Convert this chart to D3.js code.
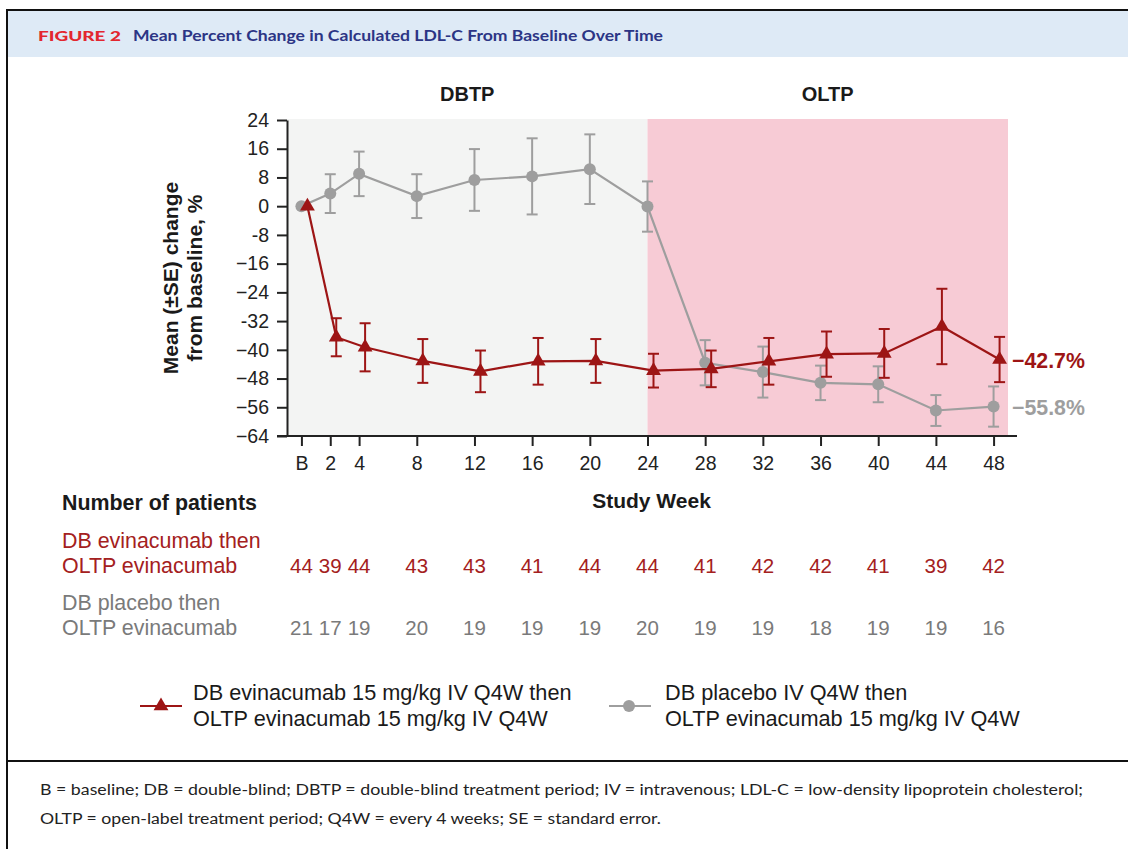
<!DOCTYPE html>
<html><head><meta charset="utf-8">
<script src="https://cdn.jsdelivr.net/npm/d3@7"></script>
<style>
body{margin:0;background:#fff;}
svg{display:block;}
</style>
</head><body>
<svg id="chart" width="1128" height="849"></svg>
<script>
// ---------- data ----------
const weeks = [0, 2, 4, 8, 12, 16, 20, 24, 28, 32, 36, 40, 44, 48];
const weekLabels = ["B", "2", "4", "8", "12", "16", "20", "24", "28", "32", "36", "40", "44", "48"];
const evinMean = [0, -36.5, -39.3, -43.1, -46.0, -43.2, -43.1, -45.8, -45.3, -43.2, -41.2, -41.0, -33.5, -42.7];
const evinSE   = [0, 5.3, 6.7, 6.1, 5.8, 6.5, 6.1, 4.7, 5.1, 6.5, 6.3, 6.8, 10.5, 6.3];
const placMean = [0, 3.5, 9.0, 2.8, 7.3, 8.3, 10.3, -0.1, -43.6, -46.2, -49.2, -49.6, -56.9, -55.8];
const placSE   = [0, 5.4, 6.2, 6.1, 8.6, 10.6, 9.7, 7.0, 6.3, 7.1, 4.8, 5.0, 4.3, 5.6];
const evinN = [44, 39, 44, 43, 43, 41, 44, 44, 41, 42, 42, 41, 39, 42];
const placN = [21, 17, 19, 20, 19, 19, 19, 20, 19, 19, 18, 19, 19, 16];
const yTicks = [24, 16, 8, 0, -8, -16, -24, -32, -40, -48, -56, -64];
const yTickLabels = ["24", "16", "8", "0", "-8", "\u221216", "\u221224", "-32", "\u221240", "\u221248", "\u221256", "\u221264"];
const periods = [
  {name: "DBTP", from: -1, to: 24, fill: "#f3f4f3"},
  {name: "OLTP", from: 24, to: 49, fill: "#f7cbd5"}
];
const endLabels = ["\u221242.7%", "\u221255.8%"];
const seriesNames = [
  ["DB evinacumab 15 mg/kg IV Q4W then", "OLTP evinacumab 15 mg/kg IV Q4W"],
  ["DB placebo IV Q4W then", "OLTP evinacumab 15 mg/kg IV Q4W"]
];
const rowLabels = [
  ["DB evinacumab then", "OLTP evinacumab"],
  ["DB placebo then", "OLTP evinacumab"]
];
const footnote = [
  "B = baseline; DB = double-blind; DBTP = double-blind treatment period; IV = intravenous; LDL-C = low-density lipoprotein cholesterol;",
  "OLTP = open-label treatment period; Q4W = every 4 weeks; SE = standard error."
];

// ---------- styles ----------
const RED = "#9d1515", RED_TXT = "#a42020";
const GRAY = "#9e9e9e", GRAY_TXT = "#7a7a7a";
const AX = "#222";
const FONT = "'Liberation Sans', Arial, Helvetica, sans-serif";
const HFONT = "Lato, 'Open Sans', sans-serif";

const svg = d3.select("#chart");

// ---------- frame & header ----------
svg.append("rect").attr("x", 7).attr("y", 11).attr("width", 1121).attr("height", 46).attr("fill", "#deeaf6");
svg.append("line").attr("x1", 6).attr("x2", 1128).attr("y1", 10).attr("y2", 10).attr("stroke", "#111").attr("stroke-width", 2);
svg.append("line").attr("x1", 7).attr("x2", 7).attr("y1", 9).attr("y2", 849).attr("stroke", "#111").attr("stroke-width", 2);
svg.append("line").attr("x1", 7).attr("x2", 1128).attr("y1", 761).attr("y2", 761).attr("stroke", "#111").attr("stroke-width", 2);

svg.append("text").attr("x", 38).attr("y", 41)
  .attr("font-family", HFONT).attr("font-weight", 900).attr("font-size", 13.5)
  .attr("fill", "#e3262f").attr("textLength", 83).attr("lengthAdjust", "spacingAndGlyphs")
  .text("FIGURE 2");
svg.append("text").attr("x", 133).attr("y", 41)
  .attr("font-family", HFONT).attr("font-weight", 700).attr("font-size", 16)
  .attr("fill", "#2c3585").attr("textLength", 530).attr("lengthAdjust", "spacingAndGlyphs")
  .text("Mean Percent Change in Calculated LDL-C From Baseline Over Time");

// ---------- scales ----------
const x = d3.scaleLinear().domain([-1, 49]).range([287, 1008]);
const y = d3.scaleLinear().domain([-64, 24]).range([436, 120]);
const DODGE = 6; // red series horizontal offset (px)

// period backgrounds
svg.append("g").selectAll("rect").data(periods).join("rect")
  .attr("x", d => x(d.from)).attr("width", d => x(d.to) - x(d.from))
  .attr("y", y(24) - 1).attr("height", y(-64) - y(24) + 1)
  .attr("fill", d => d.fill);
svg.append("g").selectAll("text").data(periods).join("text")
  .attr("x", d => (x(d.from) + x(d.to)) / 2).attr("y", 101)
  .attr("text-anchor", "middle").attr("font-family", FONT).attr("font-weight", 700)
  .attr("font-size", 20).attr("fill", "#1a1a1a").text(d => d.name);

// ---------- axes ----------
const yAxis = svg.append("g").attr("transform", `translate(${x(-1)},0)`)
  .call(d3.axisLeft(y).tickValues(yTicks).tickFormat((d, i) => yTickLabels[i]).tickSize(10).tickSizeOuter(0).tickPadding(8));
const xAxis = svg.append("g").attr("transform", `translate(0,${y(-64)})`)
  .call(d3.axisBottom(x).tickValues(weeks).tickFormat((d, i) => weekLabels[i]).tickSize(10).tickSizeOuter(0).tickPadding(10));
xAxis.select(".domain").remove();
xAxis.append("line").attr("x1", x(-1) - 10).attr("x2", x(49) + 9).attr("y1", 0).attr("y2", 0)
  .attr("stroke", AX).attr("stroke-width", 2);
[yAxis, xAxis].forEach(g => {
  g.selectAll(".domain").attr("stroke", AX).attr("stroke-width", 2);
  g.selectAll(".tick line").attr("stroke", AX).attr("stroke-width", 2);
  g.selectAll(".tick text").attr("font-family", FONT).attr("font-size", 19.5).attr("fill", "#222");
});

// y axis title
const yt = svg.append("text").attr("transform", `translate(178,${(y(24) + y(-64)) / 2}) rotate(-90)`)
  .attr("text-anchor", "middle").attr("font-family", FONT).attr("font-weight", 700)
  .attr("font-size", 21).attr("fill", "#1a1a1a");
yt.append("tspan").attr("x", 0).attr("y", 0).text("Mean (\u00B1SE) change");
yt.append("tspan").attr("x", 0).attr("y", 24).text("from baseline, %");

svg.append("text").attr("x", (x(-1) + x(49)) / 2 + 4).attr("y", 508).attr("text-anchor", "middle")
  .attr("font-family", FONT).attr("font-weight", 700).attr("font-size", 21).attr("fill", "#1a1a1a")
  .text("Study Week");

// ---------- series ----------
function drawSeries(means, ses, color, dx, marker) {
  const pts = weeks.map((w, i) => ({w, m: means[i], se: ses[i]}));
  const g = svg.append("g");
  g.append("path").datum(pts)
    .attr("d", d3.line().x(d => x(d.w) + dx).y(d => y(d.m)))
    .attr("fill", "none").attr("stroke", color).attr("stroke-width", 2.2);
  const eb = g.selectAll("g.eb").data(pts.filter(d => d.se > 0)).join("g")
    .attr("stroke", color).attr("stroke-width", 2);
  eb.append("line").attr("x1", d => x(d.w) + dx).attr("x2", d => x(d.w) + dx)
    .attr("y1", d => y(d.m + d.se)).attr("y2", d => y(d.m - d.se));
  eb.append("line").attr("x1", d => x(d.w) + dx - 5.5).attr("x2", d => x(d.w) + dx + 5.5)
    .attr("y1", d => y(d.m + d.se)).attr("y2", d => y(d.m + d.se));
  eb.append("line").attr("x1", d => x(d.w) + dx - 5.5).attr("x2", d => x(d.w) + dx + 5.5)
    .attr("y1", d => y(d.m - d.se)).attr("y2", d => y(d.m - d.se));
  if (marker === "triangle") {
    g.selectAll("path.mk").data(pts).join("path").attr("class", "mk")
      .attr("d", d3.symbol(d3.symbolTriangle, 95))
      .attr("transform", d => `translate(${x(d.w) + dx},${y(d.m)})`).attr("fill", color);
  } else {
    g.selectAll("circle.mk").data(pts).join("circle").attr("class", "mk")
      .attr("cx", d => x(d.w) + dx).attr("cy", d => y(d.m)).attr("r", 6).attr("fill", color);
  }
}
drawSeries(placMean, placSE, GRAY, 0, "circle");
drawSeries(evinMean, evinSE, RED, DODGE, "triangle");

// end labels
svg.append("text").attr("x", 1012).attr("y", y(evinMean[evinMean.length - 1]) + 8)
  .attr("font-family", FONT).attr("font-weight", 700).attr("font-size", 21.3).attr("fill", RED).text(endLabels[0]);
svg.append("text").attr("x", 1012).attr("y", y(placMean[placMean.length - 1]) + 8)
  .attr("font-family", FONT).attr("font-weight", 700).attr("font-size", 21.3).attr("fill", GRAY).text(endLabels[1]);

// ---------- number at risk ----------
svg.append("text").attr("x", 62).attr("y", 510).attr("font-family", FONT).attr("font-weight", 700)
  .attr("font-size", 21.4).attr("fill", "#1a1a1a").text("Number of patients");
const rows = [
  {labels: rowLabels[0], n: evinN, color: RED_TXT, y0: 548},
  {labels: rowLabels[1], n: placN, color: GRAY_TXT, y0: 610}
];
rows.forEach(r => {
  r.labels.forEach((t, i) => svg.append("text").attr("x", 62).attr("y", r.y0 + i * 25)
    .attr("font-family", FONT).attr("font-size", 21.4).attr("fill", r.color).text(t));
  svg.append("g").selectAll("text").data(r.n).join("text")
    .attr("x", (d, i) => x(weeks[i])).attr("y", r.y0 + 25).attr("text-anchor", "middle")
    .attr("font-family", FONT).attr("font-size", 20.5).attr("fill", r.color).text(d => d);
});

// ---------- legend ----------
const legend = [
  {x0: 140, color: RED, marker: "triangle", lines: seriesNames[0], tx: 193},
  {x0: 609, color: GRAY, marker: "circle", lines: seriesNames[1], tx: 665}
];
legend.forEach(l => {
  const g = svg.append("g");
  g.append("line").attr("x1", l.x0).attr("x2", l.x0 + 42).attr("y1", 706).attr("y2", 706)
    .attr("stroke", l.color).attr("stroke-width", 2.2);
  if (l.marker === "triangle") {
    g.append("path").attr("d", d3.symbol(d3.symbolTriangle, 95))
      .attr("transform", `translate(${l.x0 + 21},706)`).attr("fill", l.color);
  } else {
    g.append("circle").attr("cx", l.x0 + 20).attr("cy", 706).attr("r", 6).attr("fill", l.color);
  }
  l.lines.forEach((t, i) => g.append("text").attr("x", l.tx).attr("y", 700 + i * 26)
    .attr("font-family", FONT).attr("font-size", 21.7).attr("fill", "#1a1a1a").text(t));
});

// ---------- footnote ----------
const fnLen = [1043, 621];
footnote.forEach((t, i) => svg.append("text").attr("x", 40).attr("y", 795 + i * 29)
  .attr("font-family", HFONT).attr("font-size", 15.5).attr("fill", "#222")
  .attr("textLength", fnLen[i]).attr("lengthAdjust", "spacingAndGlyphs").text(t));
</script>
</body></html>
